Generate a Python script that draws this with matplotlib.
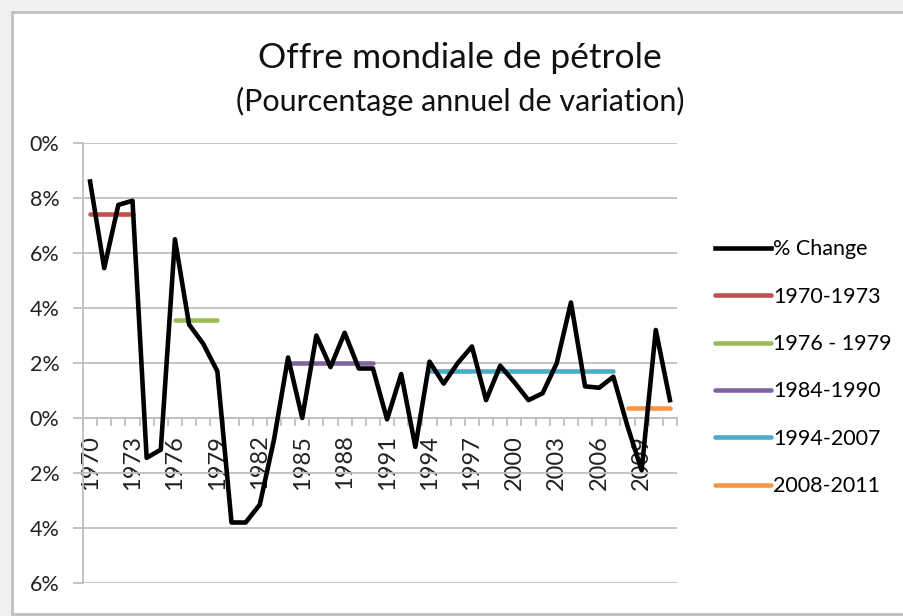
import numpy as np
import matplotlib
matplotlib.use("Agg")
import matplotlib.pyplot as plt
from matplotlib.patches import Rectangle

plt.rcParams['font.family'] = ['Lato', 'DejaVu Sans']

# annual % change of world oil supply
years = list(range(1970, 2012))
change = [8.6, 5.45, 7.75, 7.9, -1.45, -1.15, 6.5, 3.4, 2.7, 1.7,
          -3.8, -3.8, -3.15, -0.8, 2.2, 0.0, 3.0, 1.85, 3.1, 1.8,
          1.8, -0.05, 1.6, -1.05, 2.05, 1.25, 2.0, 2.6, 0.65, 1.9,
          1.3, 0.65, 0.9, 2.0, 4.2, 1.15, 1.1, 1.5, -0.3, -1.9,
          3.2, 0.65]

# period averages
period_labels = ["1970-1973", "1976 - 1979", "1984-1990", "1994-2007", "2008-2011"]
period_start = [1970, 1976, 1984, 1994, 2008]
period_end = [1973, 1979, 1990, 2007, 2011]
period_avg = [7.4, 3.55, 2.0, 1.7, 0.35]
period_colors = ["#C0504D", "#9BBB59", "#8064A2", "#4BACC6", "#F79646"]

ytick_vals = [-6, -4, -2, 0, 2, 4, 6, 8, 10]
ytick_text = ["6%", "4%", "2%", "0%", "2%", "4%", "6%", "8%", "0%"]
xtick_years = list(range(1970, 2012, 3))

fig = plt.figure(figsize=(9.04, 6.16), dpi=100)

# light frame around the chart area
fig.patches.append(Rectangle((0, 0), 1, 1, transform=fig.transFigure,
                             facecolor="#F0F0F0", edgecolor="none", zorder=-3))
fig.patches.append(Rectangle((12 / 904, 2 / 616), 1.0, 602 / 616, transform=fig.transFigure,
                             facecolor="white", edgecolor="#C0C0C0", linewidth=2, zorder=-2))

ax = fig.add_axes([83 / 904, 1 - 583 / 616, (677 - 83) / 904, (583 - 143) / 616])

ax.plot(years, change, color="black", linewidth=3.3, label="% Change", zorder=3)
for lab, s, e, v, c in zip(period_labels, period_start, period_end, period_avg, period_colors):
    ax.plot([s, e], [v, v], color=c, linewidth=3.3, label=lab, zorder=2, solid_capstyle="round")

ax.set_xlim(1969.5, 2011.5)
ax.set_ylim(-6, 10)
ax.set_yticks(ytick_vals)
ax.set_yticklabels(ytick_text, fontsize=15.5, color="#222222")
ax.yaxis.grid(True, color="#BFBFBF", linewidth=1.3)
ax.set_axisbelow(True)
ax.tick_params(axis="y", length=7, width=1.3, color="#BFBFBF", pad=10)

ax.spines["bottom"].set_position(("data", 0))
for side in ["top", "right"]:
    ax.spines[side].set_visible(False)
ax.spines["left"].set_color("#BFBFBF")
ax.spines["left"].set_linewidth(1.3)
ax.spines["bottom"].set_color("#BFBFBF")
ax.spines["bottom"].set_linewidth(1.3)

ax.set_xticks(xtick_years)
ax.set_xticklabels([str(y) for y in xtick_years], rotation=90, fontsize=17, color="#222222")
ax.set_xticks(np.arange(1969.5, 2012, 1), minor=True)
ax.tick_params(axis="x", which="major", length=0, pad=12)
ax.tick_params(axis="x", which="minor", length=6, width=1.3, color="#BFBFBF")

fig.text(460 / 904, 1 - 58 / 616, "Offre mondiale de pétrole", ha="center", va="center",
         fontsize=25.5, color="#111111")
fig.text(460 / 904, 1 - 101 / 616, "(Pourcentage annuel de variation)", ha="center", va="center",
         fontsize=22, color="#111111")

fig.legend(loc="upper left", bbox_to_anchor=(696 / 904, 1 - 220 / 616), frameon=False,
           fontsize=15.5, handlelength=2.6, handletextpad=0.1, labelspacing=1.27)

fig.savefig("out.png", dpi=100)
